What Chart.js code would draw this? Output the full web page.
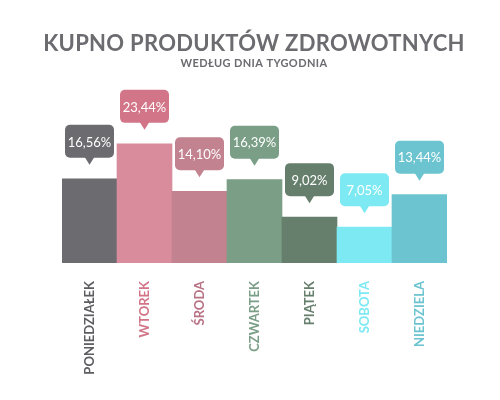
<!DOCTYPE html>
<html>
<head>
<meta charset="utf-8">
<script src="https://cdn.jsdelivr.net/npm/chart.js@4/dist/chart.umd.min.js"></script>
<style>
  html, body { margin: 0; padding: 0; background: #fff; }
  #wrap { width: 500px; height: 400px; }
</style>
</head>
<body>
<div id="wrap"><canvas id="myChart"></canvas></div>
<script>
var chartTitle = 'KUPNO PRODUKTÓW ZDROWOTNYCH';
var chartSubtitle = 'WEDŁUG DNIA TYGODNIA';
var days = ['PONIEDZIAŁEK', 'WTOREK', 'ŚRODA', 'CZWARTEK', 'PIĄTEK', 'SOBOTA', 'NIEDZIELA'];
var shares = [16.56, 23.44, 14.10, 16.39, 9.02, 7.05, 13.44];
var barColors = ['#6b6b70', '#d98c9b', '#c2828f', '#7a9e86', '#667f6d', '#7de9f2', '#6bc4cf'];
var calloutColors = ['#6b6b70', '#d27588', '#c2828f', '#7a9e86', '#667f6d', '#7de9f2', '#6bc4cf'];
var labelColors = ['#5c5c61', '#d27588', '#b87284', '#7a9e86', '#667f6d', '#7de9f2', '#6bc4cf'];

function fmt(v) {
    return v.toFixed(2).replace('.', ',') + '%';
}

// title drawn by hand so it is not squeezed into the padded box
var headerPlugin = {
    id: 'header',
    afterDraw: function (chart) {
        var ctx = chart.ctx;
        var cx = 254;
        ctx.save();
        ctx.fillStyle = '#6b6b70';
        ctx.textAlign = 'center';
        ctx.textBaseline = 'alphabetic';
        ctx.font = 'bold 22px Lato';
        ctx.letterSpacing = '0.3px';
        ctx.fillText(chartTitle, cx, 51);
        ctx.font = 'bold 11px Lato';
        ctx.letterSpacing = '0.4px';
        ctx.fillText(chartSubtitle, cx, 67);
        ctx.restore();
    }
};

// speech-bubble labels above each bar
var calloutPlugin = {
    id: 'callouts',
    afterDatasetsDraw: function (chart) {
        var ctx = chart.ctx;
        var meta = chart.getDatasetMeta(0);
        ctx.save();
        ctx.font = '13px Lato';
        ctx.textAlign = 'center';
        ctx.textBaseline = 'middle';
        meta.data.forEach(function (bar, i) {
            var w = 49, h = 33, r = 5;
            var tip = bar.y - 14;
            var bottom = tip - 7;
            var left = bar.x - w / 2;
            ctx.fillStyle = calloutColors[i];
            ctx.beginPath();
            ctx.roundRect(left, bottom - h, w, h, r);
            ctx.fill();
            ctx.beginPath();
            ctx.moveTo(bar.x - 5, bottom - 1);
            ctx.lineTo(bar.x + 5, bottom - 1);
            ctx.lineTo(bar.x, tip);
            ctx.closePath();
            ctx.fill();
            ctx.fillStyle = '#ffffff';
            ctx.fillText(fmt(shares[i]), bar.x, bottom - h / 2 + 1);
        });
        ctx.restore();
    }
};

var ctx = document.getElementById('myChart');
var myChart = new Chart(ctx, {
    type: 'bar',
    data: {
        labels: days,
        datasets: [{
            data: shares,
            backgroundColor: barColors,
            borderWidth: 0,
            categoryPercentage: 1.0,
            barPercentage: 1.0
        }]
    },
    options: {
        responsive: true,
        maintainAspectRatio: false,
        animation: false,
        layout: { padding: { left: 62, right: 53, top: 80, bottom: 0 } },
        plugins: {
            legend: { display: false },
            tooltip: { enabled: false }
        },
        scales: {
            x: {
                grid: { display: false, drawTicks: false },
                border: { display: false },
                ticks: {
                    color: labelColors,
                    font: { family: 'Lato', size: 13, weight: 'bold' },
                    minRotation: 90,
                    maxRotation: 90,
                    padding: 18
                },
                afterFit: function (scale) {
                    scale.height = 137;
                }
            },
            y: {
                display: false,
                min: 0,
                max: 36.0
            }
        }
    },
    plugins: [calloutPlugin, headerPlugin]
});
</script>
</body>
</html>
